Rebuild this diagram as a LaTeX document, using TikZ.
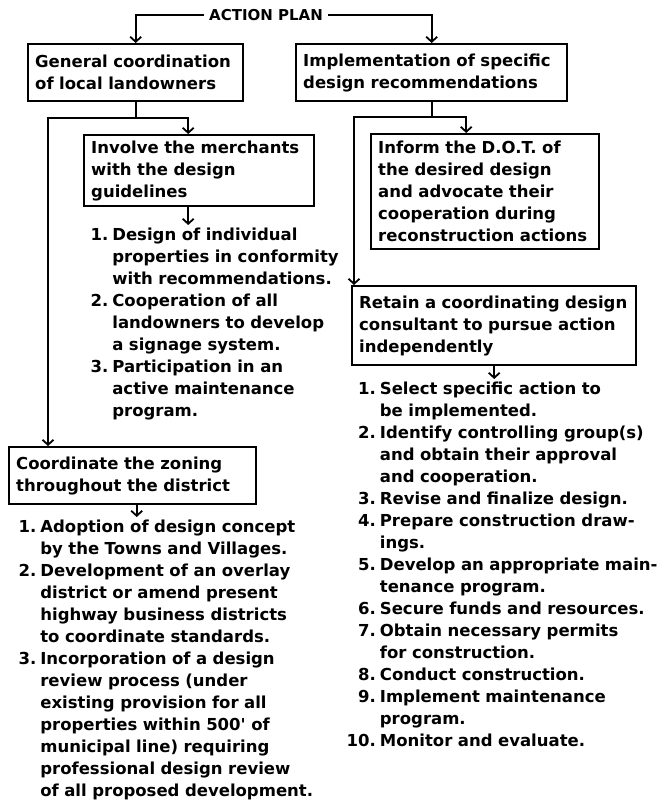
\documentclass[tikz,border=0pt]{standalone}
\usepackage{fontspec}
\setmainfont{DejaVu Sans}
\usetikzlibrary{arrows.meta, positioning}

% hanging numbers for the step lists
\newlength{\numw}
\newcommand{\lnum}[1]{\makebox[\numw][r]{#1}\hspace*{4pt}}
\newcommand{\lcont}{\hspace*{\dimexpr\numw+4pt\relax}}

\begin{document}
\begin{tikzpicture}[x=1pt, y=-1pt, >={Straight Barb[length=5pt,width=11pt]},
        font=\fontsize{16.5}{22}\selectfont\bfseries,
        task/.style={draw, line width=2.4pt, anchor=north west, align=left,
                     inner xsep=7pt, inner ysep=0pt},
        steplist/.style={anchor=north west, align=left, inner xsep=0pt, inner ysep=3pt},
        link/.style={line width=1.8pt}]
  \useasboundingbox (0,0) rectangle (670,803);

  \node[inner xsep=5pt, font=\fontsize{15}{18}\selectfont\bfseries] (plan) at (266,15) {ACTION PLAN};

  % the two main branches
  \node[task, text width=201pt, minimum height=57pt] (general) at (27,43)
       {General coordination\\of local landowners};
  \node[task, text width=257pt, minimum height=57pt] (impl) at (295,43)
       {Implementation of specific\\design recommendations};

  % left branch
  \node[task, text width=216pt, minimum height=71pt] (merch) at (83,134)
       {Involve the merchants\\with the design\\guidelines};
  \node[steplist, text width=270pt] (merchlist) at (90,225)
       {\setlength{\numw}{1.1em}%
        \lnum{1.}Design of individual\\
        \lcont properties in conformity\\
        \lcont with recommendations.\\
        \lnum{2.}Cooperation of all\\
        \lcont landowners to develop\\
        \lcont a signage system.\\
        \lnum{3.}Participation in an\\
        \lcont active maintenance\\
        \lcont program.};
  \node[task, text width=233pt, minimum height=57pt] (zoning) at (8,446)
       {Coordinate the zoning\\throughout the district};
  \node[steplist, text width=320pt] (zonelist) at (18,517)
       {\setlength{\numw}{1.1em}%
        \lnum{1.}Adoption of design concept\\
        \lcont by the Towns and Villages.\\
        \lnum{2.}Development of an overlay\\
        \lcont district or amend present\\
        \lcont highway business districts\\
        \lcont to coordinate standards.\\
        \lnum{3.}Incorporation of a design\\
        \lcont review process (under\\
        \lcont existing provision for all\\
        \lcont properties within 500\textquotesingle{} of\\
        \lcont municipal line) requiring\\
        \lcont professional design review\\
        \lcont of all proposed development.};

  % right branch
  \node[task, text width=214pt, minimum height=115pt] (dot) at (370,133)
       {Inform the D.O.T. of\\the desired design\\and advocate their\\cooperation during\\reconstruction actions};
  \node[task, text width=270pt, minimum height=79pt] (retain) at (351,285)
       {Retain a coordinating design\\consultant to pursue action\\independently};
  \node[steplist, text width=320pt] (retainlist) at (346,379)
       {\setlength{\numw}{1.8em}%
        \lnum{1.}Select specific action to\\
        \lcont be implemented.\\
        \lnum{2.}Identify controlling group(s)\\
        \lcont and obtain their approval\\
        \lcont and cooperation.\\
        \lnum{3.}Revise and finalize design.\\
        \lnum{4.}Prepare construction draw-\\
        \lcont ings.\\
        \lnum{5.}Develop an appropriate main-\\
        \lcont tenance program.\\
        \lnum{6.}Secure funds and resources.\\
        \lnum{7.}Obtain necessary permits\\
        \lcont for construction.\\
        \lnum{8.}Conduct construction.\\
        \lnum{9.}Implement maintenance\\
        \lcont program.\\
        \lnum{10.}Monitor and evaluate.};

  \coordinate (lsplit) at (48,118);
  \coordinate (rsplit) at (354,117);

  \draw[link,->] (plan.west) -| (general.north);
  \draw[link,->] (plan.east) -| (impl.north);

  \draw[link] (general.south) -- (general.south |- lsplit);
  \draw[link,<->] ([xshift=-11pt]merch.north) |- (lsplit) -- (lsplit |- zoning.north);
  \draw[link,->] ([xshift=-11pt]merch.south) -- ([xshift=-11pt]merch.south |- merchlist.north);
  \draw[link,->] ([xshift=4pt]zoning.south) -- ([xshift=4pt]zoning.south |- zonelist.north);

  \draw[link] (impl.south) -- (impl.south |- rsplit);
  \draw[link,<->] ([xshift=-19pt]dot.north) |- (rsplit) -- (rsplit |- retain.north);
  \draw[link,->] (retain.south) -- (retain.south |- retainlist.north);
\end{tikzpicture}
\end{document}
